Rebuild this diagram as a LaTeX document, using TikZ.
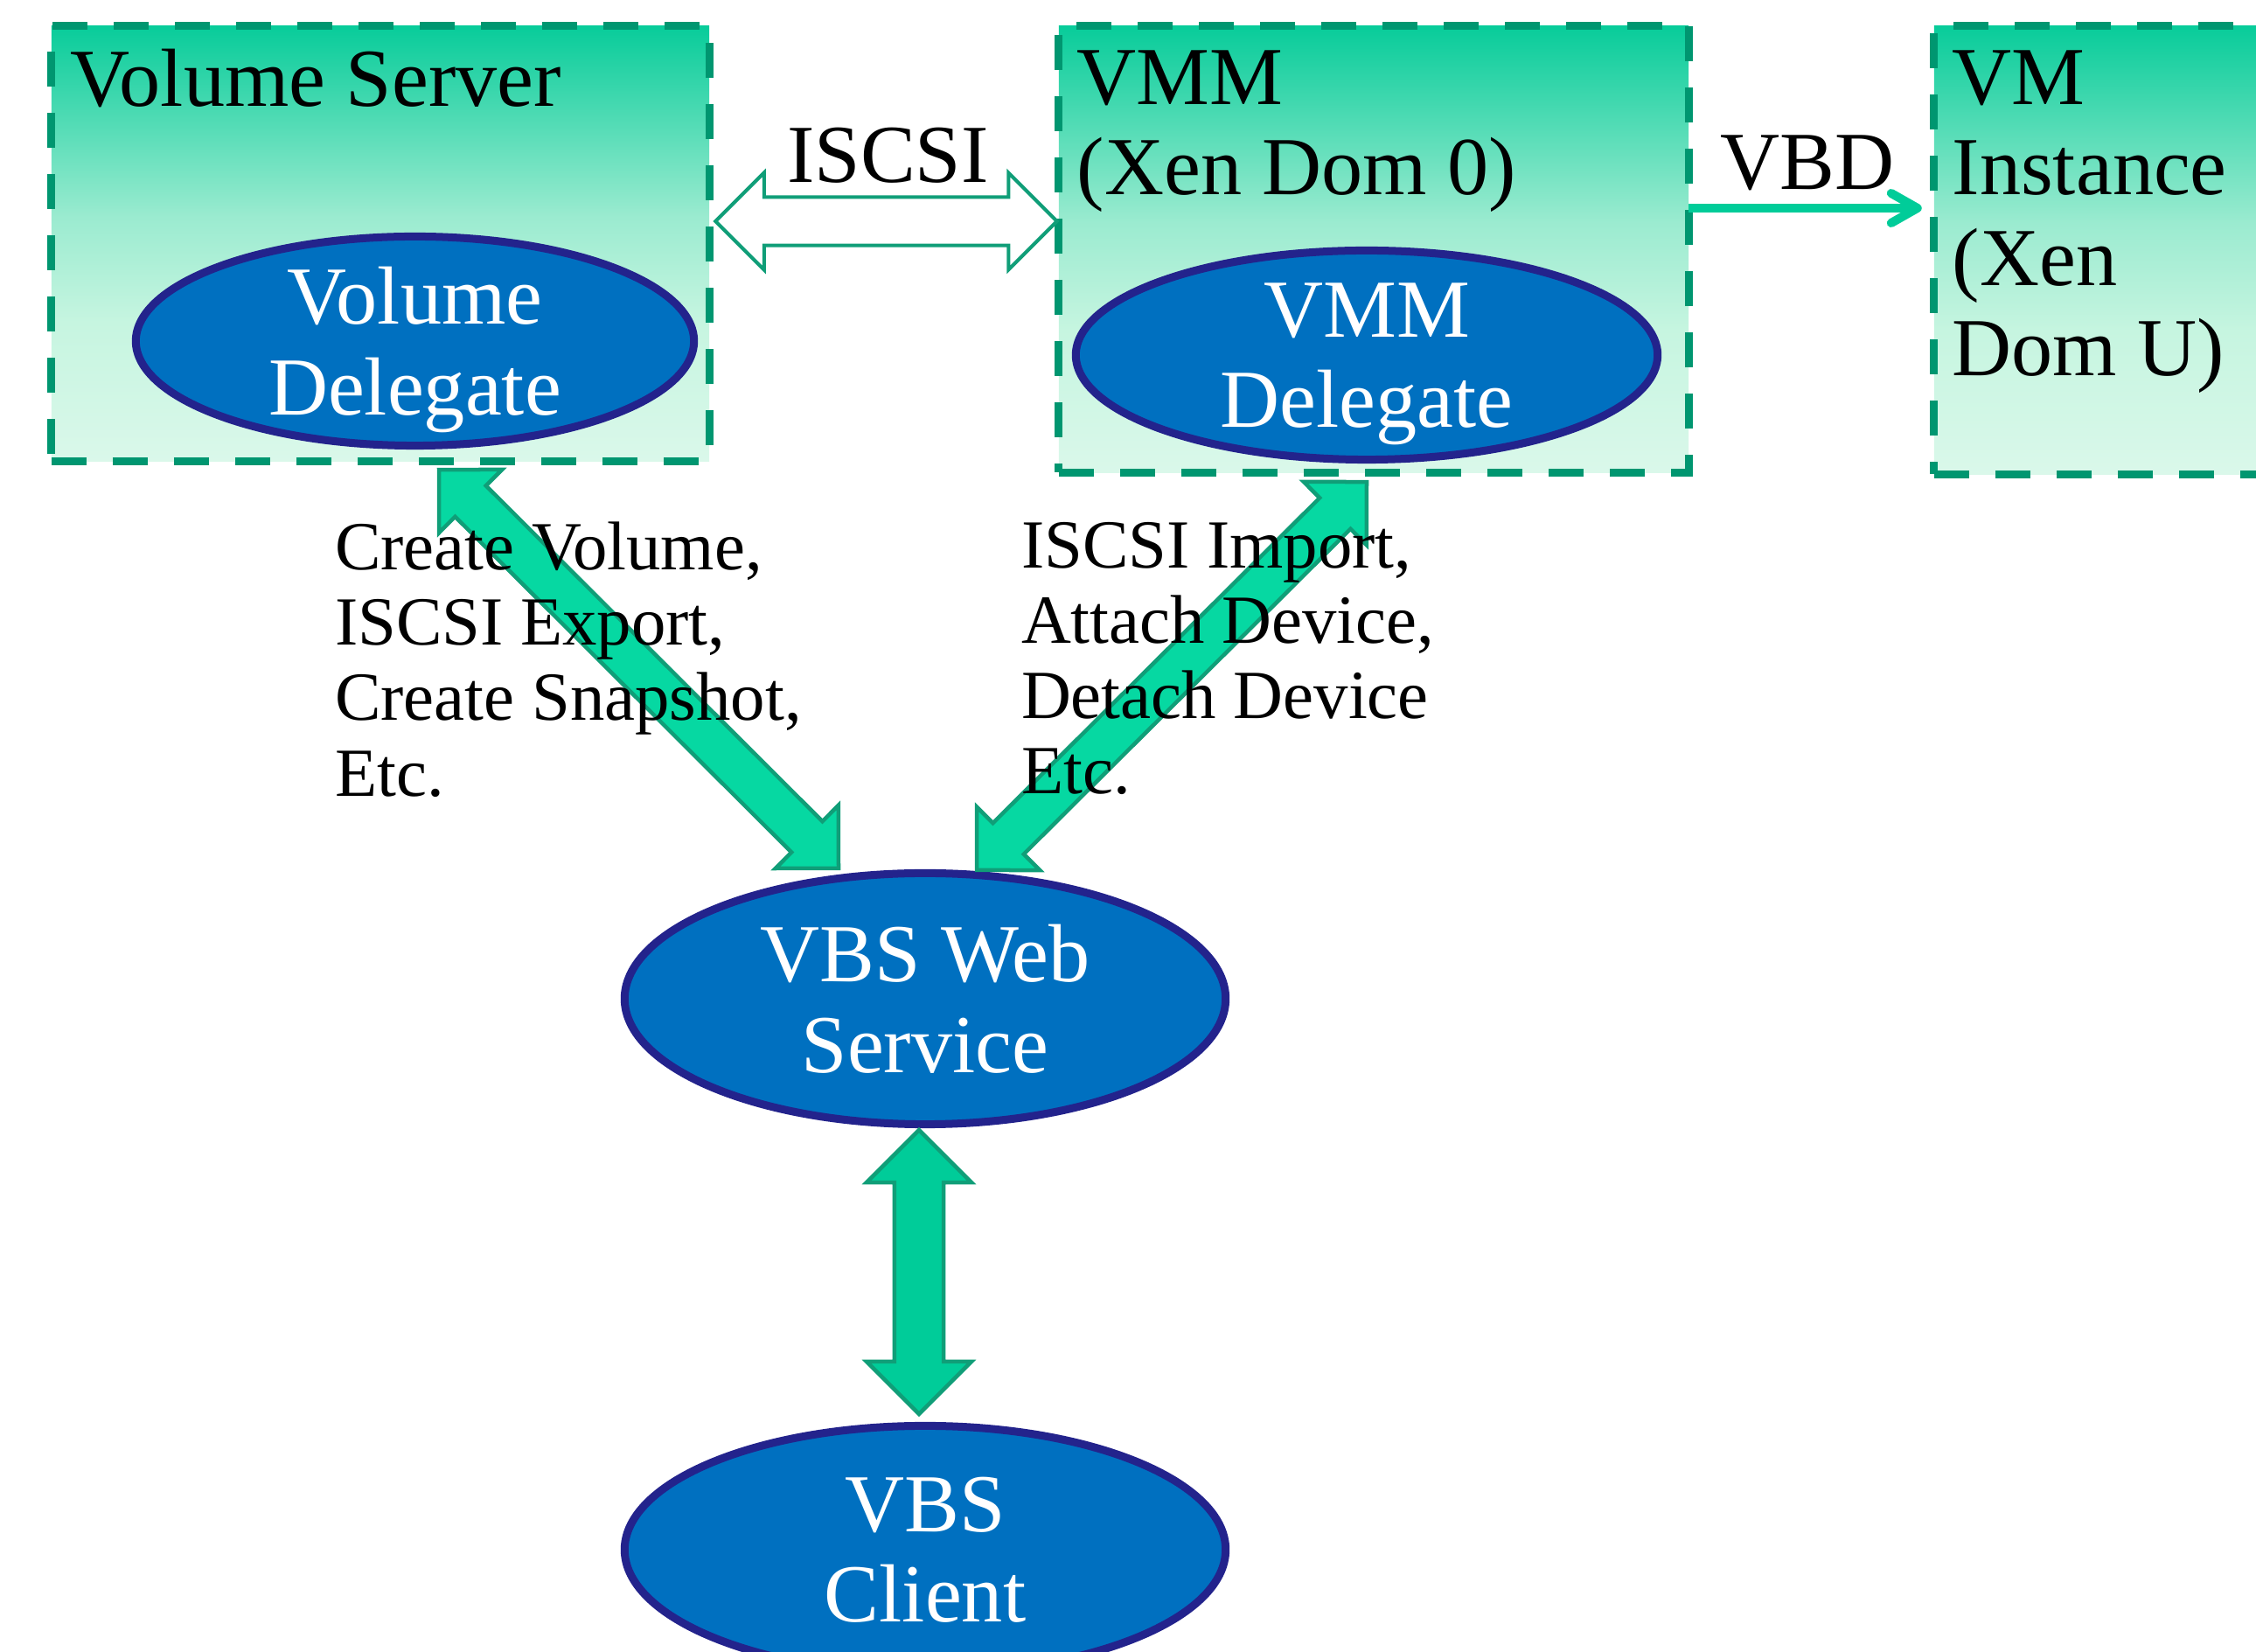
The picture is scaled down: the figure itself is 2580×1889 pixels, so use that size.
\documentclass[tikz,border=0pt]{standalone}
\usepackage{fontspec}
\setmainfont{Liberation Serif}
\usetikzlibrary{shapes.geometric, calc, arrows.meta}

\definecolor{boxtop}{RGB}{8,204,154}
\definecolor{boxmid}{RGB}{155,235,208}
\definecolor{boxpale}{RGB}{198,245,224}
\definecolor{boxlow}{RGB}{218,248,234}
\definecolor{boxline}{RGB}{0,150,112}
\definecolor{ellfill}{RGB}{0,112,192}
\definecolor{ellline}{RGB}{35,35,140}
\definecolor{arrfill}{RGB}{6,216,162}
\definecolor{arrfilltwo}{RGB}{0,204,153}
\definecolor{arrline}{RGB}{16,158,120}
\definecolor{vbdcol}{RGB}{0,204,153}

\pgfdeclareverticalshading{boxfade}{100bp}{color(0bp)=(boxlow); color(25bp)=(boxlow); color(41bp)=(boxpale); color(53bp)=(boxmid); color(75bp)=(boxtop); color(100bp)=(boxtop)}

\newcommand{\bigfont}{\fontsize{26.8pt}{29.4pt}\selectfont}
\newcommand{\opsfont}{\fontsize{22.4pt}{24.5pt}\selectfont}

% block arrow with a head at both ends: [style]{from}{to}{shaft half width}{head size}
\newcommand{\blockarrow}[5][]{%
  \draw[#1] (#2)
    -- ($(#2)!#5!(#3)!#5!90:(#3)$)
    -- ($(#2)!#5!(#3)!#4!90:(#3)$)
    -- ($(#3)!#5!(#2)!#4!-90:(#2)$)
    -- ($(#3)!#5!(#2)!#5!-90:(#2)$)
    -- (#3)
    -- ($(#3)!#5!(#2)!#5!90:(#2)$)
    -- ($(#3)!#5!(#2)!#4!90:(#2)$)
    -- ($(#2)!#5!(#3)!#4!-90:(#3)$)
    -- ($(#2)!#5!(#3)!#5!-90:(#3)$)
    -- cycle;}

\tikzset{
  srvbox/.style={rectangle, inner sep=0pt, outer sep=0pt, shade, shading=boxfade,
    draw=boxline, line width=0.09cm, dash pattern=on 0.4cm off 0.3cm},
  delegate/.style={ellipse, inner sep=0pt, outer sep=0pt, draw=ellline, fill=ellfill,
    line width=0.09cm, text=white, font=\bigfont, align=center, text depth=0pt},
  boxlbl/.style={inner sep=0pt, outer sep=0pt, anchor=north west, align=left, font=\bigfont},
  biglbl/.style={inner sep=0pt, outer sep=0pt, font=\bigfont},
  opslbl/.style={inner sep=0pt, outer sep=0pt, anchor=north west, align=left, font=\opsfont},
  blockarr/.style={draw=arrline, fill=arrfill, line width=0.045cm, line join=miter},
  isoarr/.style={draw=arrline, fill=white, line width=0.04cm, line join=miter},
  vbdline/.style={draw=vbdcol, line width=0.1cm,
    -{Straight Barb[round, length=0.3cm, width=0.34cm]}}
}

\begin{document}
\begin{tikzpicture}[x=0.01cm, y=-0.01cm]
  % Define parameters
  \def\sdiag{0.25cm}  % shaft half width, slanted arrows
  \def\hdiag{0.51cm}  % head size, slanted arrows
  \def\svert{0.28cm}  % shaft half width, client arrow
  \def\hvert{0.6cm}   % head size, client arrow
  \def\siso{0.275cm}  % shaft half width, ISCSI arrow
  \def\hiso{0.555cm}  % head size, ISCSI arrow

  \useasboundingbox (0,0) rectangle (2580,1889);
  \clip (0,0) rectangle (2580,1889);

  % Boxes
  \node[srvbox, minimum width=7.52cm, minimum height=4.97cm] (volsrv) at (435,278.5) {};
  \node[srvbox, minimum width=7.2cm, minimum height=5.1cm] (vmm) at (1571,285) {};
  \node[srvbox, minimum width=7.2cm, minimum height=5.12cm] (vminst) at (2572,286) {};

  \node[boxlbl] (volsrvlbl) at ($(volsrv.north west)+(22,26)$) {Volume Server};
  \node[boxlbl] (vmmlbl) at ($(vmm.north west)+(21,28)$) {VMM\\(Xen Dom 0)};
  \node[boxlbl] (vminstlbl) at ($(vminst.north west)+(21,28)$) {VM\\Instance\\(Xen\\Dom U)};

  % Delegates and services
  \node[delegate, minimum width=6.38cm, minimum height=2.39cm] (voldel) at (474.5,390) {Volume\\Delegate};
  \node[delegate, minimum width=6.65cm, minimum height=2.39cm] (vmmdel) at (1563,406) {VMM\\Delegate};
  \node[delegate, minimum width=6.87cm, minimum height=2.87cm] (vbsweb) at (1058,1142) {VBS Web\\Service};
  \node[delegate, minimum width=6.87cm, minimum height=2.83cm] (vbsclient) at (1058,1772) {VBS\\Client};

  % Arrow ends
  \coordinate (isL) at ($(volsrv.east)+(7,-25.5)$);
  \coordinate (isR) at ($(vmm.west)+(-2,-32)$);
  \coordinate (vbdL) at ($(vmm.east)+(0,-47)$);
  \coordinate (vbdR) at ($(vminst.west)+(-14,-48)$);
  \coordinate (opsLtop) at ($(voldel.south)+(27.5,27.5)$);
  \coordinate (opsLbot) at ($(vbsweb.north)+(-99,-5.5)$);
  \coordinate (opsRtop) at ($(vmmdel.south)+(0,25.5)$);
  \coordinate (opsRbot) at ($(vbsweb.north)+(59,-3.5)$);
  \coordinate (webbot) at ($(vbsweb.south)+(-7,6.5)$);
  \coordinate (clitop) at ($(vbsclient.north)+(-7,-13.5)$);

  % ISCSI and VBD
  \blockarrow[isoarr]{isL}{isR}{\siso}{\hiso}
  \node[biglbl, anchor=base] (iscsilbl) at ($(isL)!0.5!(isR)+(2,-44)$) {ISCSI};

  \draw[vbdline] (vbdL) -- (vbdR);
  \node[biglbl, anchor=base] (vbdlbl) at ($(vbdL)!0.5!(vbdR)+(2.5,-21)$) {VBD};

  % Calls from the web service
  \blockarrow[blockarr]{opsLtop}{opsLbot}{\sdiag}{\hdiag}
  \blockarrow[blockarr]{opsRtop}{opsRbot}{\sdiag}{\hdiag}
  \blockarrow[blockarr, fill=arrfilltwo]{webbot}{clitop}{\svert}{\hvert}

  \node[opslbl] (volops) at (383,597) {Create Volume,\\ISCSI Export,\\Create Snapshot,\\Etc.};
  \node[opslbl] (vmmops) at (1168,597) {ISCSI Import,\\Attach Device,\\Detach Device\\Etc.};

\end{tikzpicture}
\end{document}
